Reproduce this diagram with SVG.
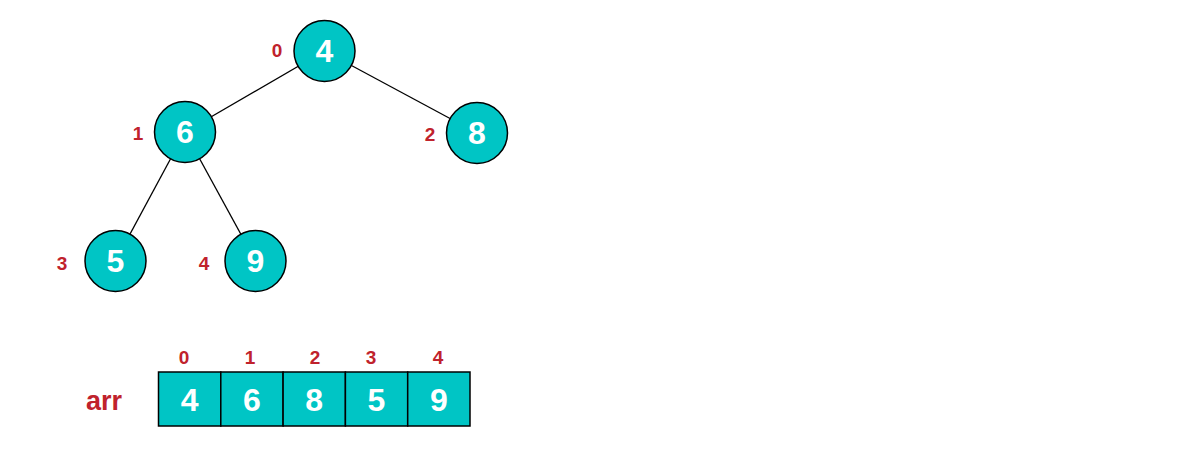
<svg xmlns="http://www.w3.org/2000/svg" width="1195" height="467" viewBox="0 0 1195 467">
<style>
.n{fill:#00c5c5;stroke:#000;stroke-width:1.5}
.v{fill:#fff;font-family:"Liberation Sans",Arial,sans-serif;font-weight:bold;font-size:32px;text-anchor:middle}
.i{fill:#c0222c;font-family:"Liberation Sans",Arial,sans-serif;font-weight:bold;font-size:19px;text-anchor:middle}
.e{stroke:#000;stroke-width:1.3}
</style>
<rect width="1195" height="467" fill="#fff"/>
<g id="edges">
<line class="e" x1="324.5" y1="51" x2="185" y2="132"/>
<line class="e" x1="324.5" y1="51" x2="477" y2="133"/>
<line class="e" x1="185" y1="132" x2="115.5" y2="261"/>
<line class="e" x1="185" y1="132" x2="255.5" y2="261"/>
</g>
<g id="n0"><circle class="n" cx="324.5" cy="51" r="30.5"/><text class="v" x="324.5" y="62">4</text><text class="i" x="277" y="57">0</text></g>
<g id="n1"><circle class="n" cx="185" cy="132" r="30.5"/><text class="v" x="185" y="143">6</text><text class="i" x="138" y="140">1</text></g>
<g id="n2"><circle class="n" cx="477" cy="133" r="30.5"/><text class="v" x="477" y="144">8</text><text class="i" x="430" y="141">2</text></g>
<g id="n3"><circle class="n" cx="115.5" cy="261" r="30.5"/><text class="v" x="115.5" y="272">5</text><text class="i" x="62" y="270">3</text></g>
<g id="n4"><circle class="n" cx="255.5" cy="261" r="30.5"/><text class="v" x="255.5" y="272">9</text><text class="i" x="204" y="270">4</text></g>
<g id="array">
<text x="104" y="410" fill="#c0222c" font-family="Liberation Sans,Arial,sans-serif" font-weight="bold" font-size="27" text-anchor="middle">arr</text>
<rect class="n" x="158.5" y="372" width="62.3" height="54"/>
<rect class="n" x="220.8" y="372" width="62.3" height="54"/>
<rect class="n" x="283.1" y="372" width="62.3" height="54"/>
<rect class="n" x="345.4" y="372" width="62.3" height="54"/>
<rect class="n" x="407.7" y="372" width="62.3" height="54"/>
<text class="v" x="189.6" y="411">4</text>
<text class="v" x="251.9" y="411">6</text>
<text class="v" x="314.2" y="411">8</text>
<text class="v" x="376.5" y="411">5</text>
<text class="v" x="438.8" y="411">9</text>
<text class="i" x="184" y="364">0</text>
<text class="i" x="250" y="364">1</text>
<text class="i" x="315" y="364">2</text>
<text class="i" x="371" y="364">3</text>
<text class="i" x="438" y="364">4</text>
</g>
</svg>
